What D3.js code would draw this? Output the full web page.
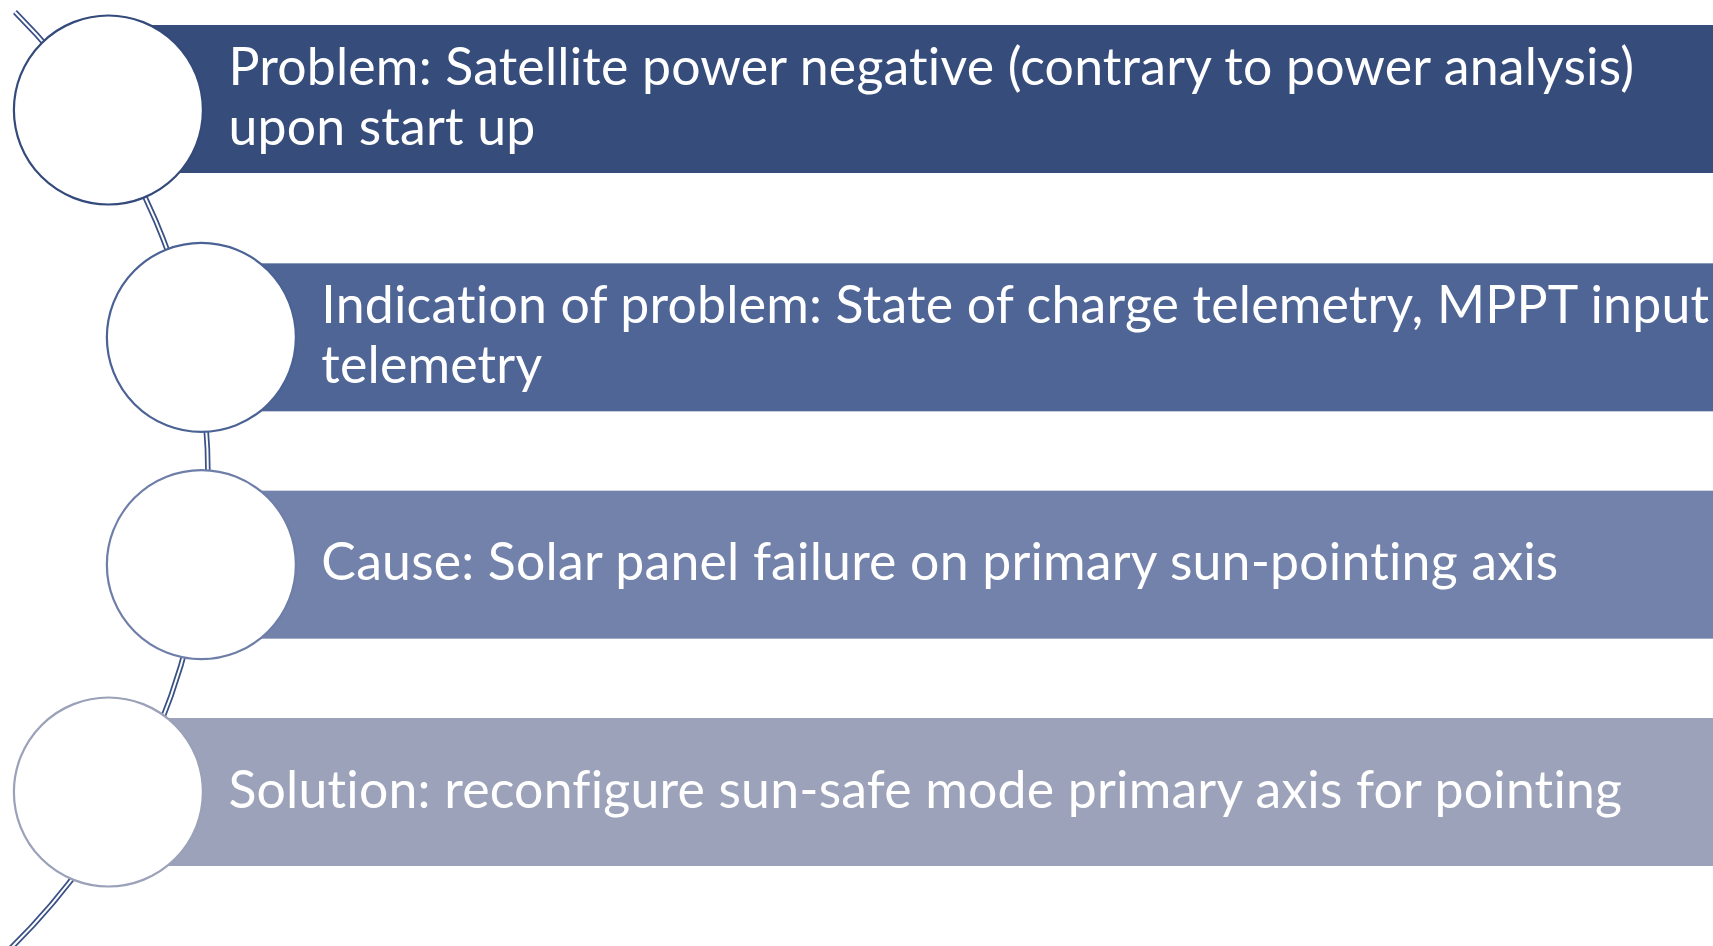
<!DOCTYPE html>
<html>
<head>
<meta charset="utf-8">
<script src="https://cdn.jsdelivr.net/npm/d3@7"></script>
<style>
  html, body { margin: 0; padding: 0; background: #fff; }
  svg { display: block; }
  text, tspan {
    font-variant-ligatures: none;
    font-feature-settings: "liga" 0, "clig" 0, "dlig" 0, "calt" 0;
    letter-spacing: 0.2px;
  }
</style>
</head>
<body>
<div id="chart"></div>
<script>
(function(d3) {
// step ids and the text lines shown in each bar
var steps = ["problem", "indication", "cause", "solution"];
var stepLines = [
  ["Problem: Satellite power negative (contrary to power analysis)", "upon start up"],
  ["Indication of problem: State of charge telemetry, MPPT input", "telemetry"],
  ["Cause: Solar panel failure on primary sun-pointing axis"],
  ["Solution: reconfigure sun-safe mode primary axis for pointing"]
];
var barColors = ["#364c7b", "#4f6596", "#7382aa", "#9ca2b9"];
var ringColors = ["#344a7b", "#4b6295", "#6e7ea8", "#9aa1b8"];

var width = 1713, height = 946;
var barH = 148, nodeR = 94.5, lineGap = 60;
// the top bar sits a little higher than its circle in the original
var firstBarLift = 11;

// nodes sit on a big arc on the left
var nodeArc = {cx: -401, cy: 451, r: 613};
// the double connector line follows a slightly different arc
var linkArc = {cx: -451, cy: 478, r: 659};

var y = d3.scalePoint()
    .domain(steps)
    .range([110, 792]);

function nodeX(d) {
  var dy = y(d) - nodeArc.cy;
  return nodeArc.cx + Math.sqrt(nodeArc.r * nodeArc.r - dy * dy);
}
function barMid(d, i) {
  return y(d) - (i === 0 ? firstBarLift : 0);
}

var svg = d3.select("#chart").append("svg")
    .attr("width", width)
    .attr("height", height);

// bars
svg.selectAll("rect.bar")
    .data(steps)
    .enter().append("rect")
    .attr("class", "bar")
    .attr("x", function(d) { return nodeX(d); })
    .attr("y", function(d, i) { return barMid(d, i) - barH / 2; })
    .attr("width", function(d) { return width - nodeX(d); })
    .attr("height", barH)
    .style("fill", function(d, i) { return barColors[i]; });

// connector: dark wide stroke with a white core = double line
var a0 = Math.asin((12 - linkArc.cy) / linkArc.r),
    a1 = Math.asin((height + 14 - linkArc.cy) / linkArc.r);
var p = d3.path();
p.arc(linkArc.cx, linkArc.cy, linkArc.r, a0, a1, false);

svg.append("path")
    .attr("d", p.toString())
    .attr("fill", "none")
    .attr("stroke", "#3a5186")
    .attr("stroke-width", 5.5);
svg.append("path")
    .attr("d", p.toString())
    .attr("fill", "none")
    .attr("stroke", "#fff")
    .attr("stroke-width", 2);

// circles
svg.selectAll("circle.node")
    .data(steps)
    .enter().append("circle")
    .attr("class", "node")
    .attr("cx", function(d) { return nodeX(d); })
    .attr("cy", function(d) { return y(d); })
    .attr("r", nodeR)
    .style("fill", "#fff")
    .style("stroke", function(d, i) { return ringColors[i]; })
    .style("stroke-width", 2.2);

// text, font size fitted so the first line spans the same width as the original
var fontFamily = "Lato, 'Noto Sans', sans-serif";
var probe = svg.append("text")
    .attr("font-family", fontFamily)
    .attr("font-size", 100)
    .text(stepLines[0][0]);
var fontSize = 100 * 1400 / probe.node().getComputedTextLength();
probe.remove();

var labels = svg.selectAll("text.label")
    .data(steps)
    .enter().append("text")
    .attr("class", "label")
    .attr("font-family", fontFamily)
    .attr("font-size", fontSize)
    .style("fill", "#fff");

labels.each(function(d, i) {
  var lines = stepLines[i];
  var first = barMid(d, i) + 15.5 - (lines.length - 1) * lineGap / 2;
  d3.select(this).selectAll("tspan")
      .data(lines)
      .enter().append("tspan")
      .attr("x", nodeX(d) + 120)
      .attr("y", function(t, j) { return first + j * lineGap; })
      .text(function(t) { return t; });
});

})(window.d3);
</script>
</body>
</html>
